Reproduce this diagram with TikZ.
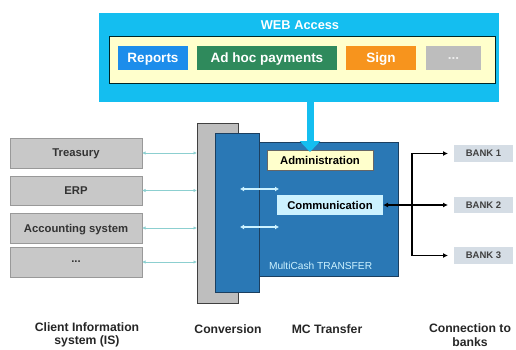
\documentclass[tikz,border=0pt]{standalone}
\usepackage{fontspec}
\setmainfont{Liberation Sans}
\usetikzlibrary{arrows.meta,calc}
\definecolor{webcyan}{HTML}{14BEF0}
\definecolor{paleyel}{HTML}{FFFFCC}
\definecolor{repblue}{HTML}{1C8DEB}
\definecolor{adgreen}{HTML}{2F8A5C}
\definecolor{signorg}{HTML}{F7941D}
\definecolor{dotgray}{HTML}{BDBDBD}
\definecolor{mcblue}{HTML}{2A78B5}
\definecolor{mcborder}{HTML}{1B3F60}
\definecolor{boxgray}{HTML}{C8C8C8}
\definecolor{bankfill}{HTML}{D5DDE5}
\definecolor{tealline}{HTML}{8CCFD0}
\definecolor{commfill}{HTML}{CCF2FF}
\tikzset{
  plain/.style={inner sep=0pt, outer sep=0pt, rectangle},
  webbtn/.style={plain, text=white, text depth=0pt, font=\bfseries\fontsize{13.5}{15}\selectfont, minimum height=24pt},
  isbox/.style={plain, draw=gray!80, fill=boxgray, text depth=0pt, minimum width=132pt, font=\bfseries\fontsize{11.3}{13}\selectfont, text=black!80},
  bankbox/.style={plain, fill=bankfill, text depth=0pt, minimum width=59pt, font=\bfseries\fontsize{9.5}{11}\selectfont, text=black!75},
  innerbox/.style={plain, draw=black!60, text depth=0pt, minimum width=106pt, minimum height=20pt, font=\bfseries\fontsize{11.3}{13}\selectfont},
  steplabel/.style={plain, align=center, font=\bfseries\fontsize{12.2}{13.5}\selectfont, text=black!85},
  tealarrow/.style={draw=tealline, line width=1pt, {Latex[length=3.5pt,width=3.5pt]}-{Latex[length=3.5pt,width=3.5pt]}},
  whitearrow/.style={draw=commfill, line width=1.3pt, {Latex[length=4pt,width=5pt]}-{Latex[length=4pt,width=5pt]}},
  bankarrow/.style={draw=black, line width=1.2pt, -{Latex[length=5pt,width=5pt]}},
}
\begin{document}
\begin{tikzpicture}[x=1pt,y=-1pt]
\useasboundingbox (0,0) rectangle (516,349);
% WEB access
\node[plain, fill=webcyan, minimum width=400pt, minimum height=89pt] (web) at (299,57.5) {};
\node[plain, text=white, font=\bfseries\fontsize{12.8}{14}\selectfont] (webtitle) at (300,25) {WEB Access};
\node[plain, draw=black!70!teal, line width=0.8pt, fill=paleyel, minimum width=386pt, minimum height=47pt] (webinner) at (302,59.5) {};
\node[webbtn, fill=repblue, minimum width=70pt] (reports) at (153,58) {Reports};
\node[webbtn, fill=adgreen, minimum width=140pt] (adhoc) at (267,58) {Ad hoc payments};
\node[webbtn, fill=signorg, minimum width=70pt] (sign) at (381,58) {Sign};
\node[webbtn, fill=dotgray, minimum width=55pt, text=white!85!gray] (wdots) at (453.5,58) {...};
% client IS boxes
\node[isbox, minimum height=30pt] (treasury) at (76,153) {Treasury};
\node[isbox, minimum height=29pt] (erp) at (76,190.5) {ERP};
\node[isbox, minimum height=30pt] (acct) at (76,228) {Accounting system};
\node[isbox, minimum height=30pt] (isdots) at (76,262) {...};
% conversion and MC transfer
\node[plain, draw=black!75, line width=0.8pt, fill=boxgray!95!black, minimum width=41pt, minimum height=180pt] (conv) at (217.5,213) {};
\node[plain, draw=mcborder, line width=0.8pt, fill=mcblue, minimum width=143pt, minimum height=134pt] (mc) at (326.5,209) {};
\node[plain, draw=mcborder, line width=0.8pt, fill=mcblue, minimum width=44pt, minimum height=159pt] (blueL) at (237,212.5) {};
\node[innerbox, fill=paleyel] (admin) at (320,160) {Administration};
\node[innerbox, fill=commfill, draw=none] (comm) at (330,205) {Communication};
\node[plain, anchor=west, text=commfill, font=\fontsize{10.2}{12}\selectfont] (mclabel) at (269,266) {MultiCash TRANSFER};
% web arrow
\draw[webcyan, line width=7pt, -{Triangle[length=11pt,width=20pt]}] ([xshift=-10pt]admin.north |- web.south) -- ([xshift=-10pt,yshift=-2pt]admin.north);
% teal connectors
\foreach \n in {treasury,erp,acct,isdots}{
  \draw[tealarrow] (\n.east) -- (conv.west |- \n.east);
}
% white double arrows
\coordinate (wa1) at (240,189);
\coordinate (wb1) at (279,189);
\coordinate (wa2) at (240,227);
\coordinate (wb2) at (279,227);
\draw[whitearrow] (wa1) -- (wb1);
\draw[whitearrow] (wa2) -- (wb2);
% banks
\node[bankbox, minimum height=17pt] (bank1) at (483.5,153.5) {BANK 1};
\node[bankbox, minimum height=16pt] (bank2) at (483.5,205) {BANK 2};
\node[bankbox, minimum height=17pt] (bank3) at (483.5,255.5) {BANK 3};
\coordinate (junc) at (412,205);
\draw[bankarrow, {Latex[length=5pt,width=5pt]}-{Latex[length=5pt,width=5pt]}, shorten >=6pt] (comm.east) -- (bank2.west);
\draw[bankarrow, shorten >=6pt] (junc) |- (bank1.west);
\draw[bankarrow, shorten >=6pt] (junc) |- (bank3.west);
% bottom labels
\node[steplabel] (lblis) at (87,335) {Client Information\\system (IS)};
\node[steplabel] (lblconv) at (228,329) {Conversion};
\node[steplabel] (lblmc) at (327,329) {MC Transfer};
\node[steplabel] (lblbank) at (470,335) {Connection to\\banks};
\end{tikzpicture}
\end{document}
